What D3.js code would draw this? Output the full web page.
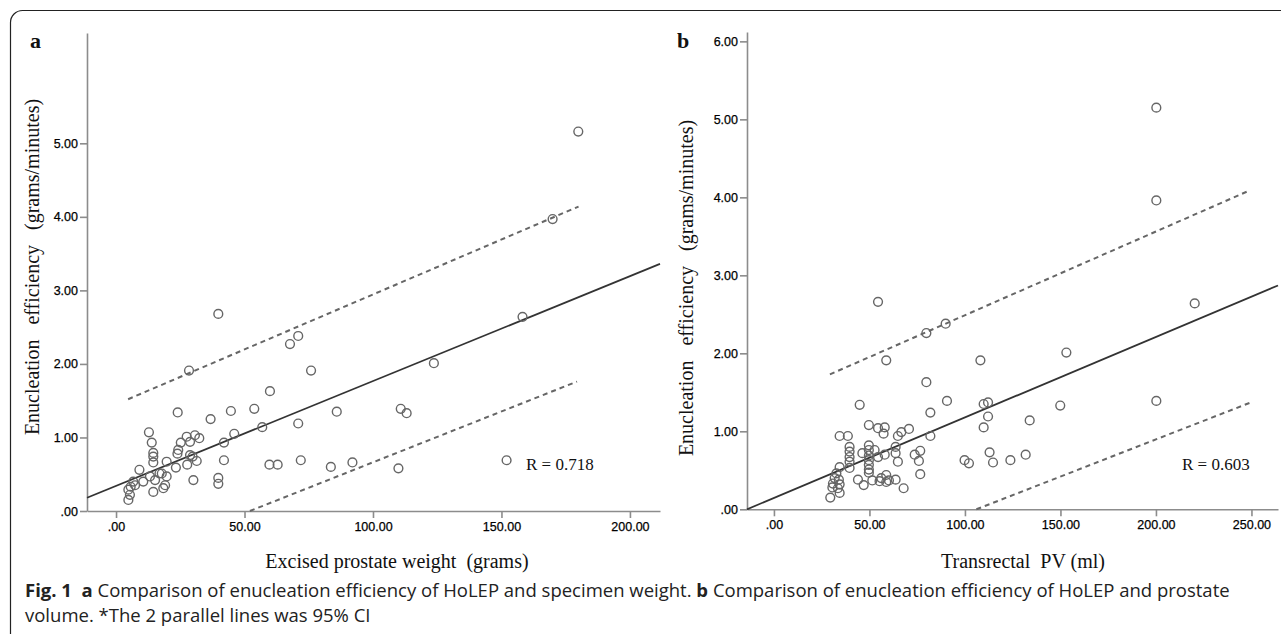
<!DOCTYPE html>
<meta charset="utf-8">
<style>
	body { margin: 0; background: #fff; }
	svg text { white-space: pre; }
	.axis path, .axis line { stroke: #8c8c8c; stroke-width: 1.6px; }
	.axis text { font-family: "Liberation Sans", Arial, sans-serif; font-size: 12.5px; fill: #000; stroke: #000; stroke-width: 0.25px; }
	.title { font-family: "Liberation Serif", "Times New Roman", serif; font-size: 20px; fill: #111; }
	.caption { font-family: "Open Sans", "Noto Sans", sans-serif; font-size: 18.5px; fill: #222; }
</style>
<svg width="1281" height="634"></svg>
<script src="https://d3js.org/d3.v7.min.js"></script>
<script>
	// panel a : excised prostate weight (g) vs enucleation efficiency (g/min)
	var weightA = [179.9, 169.9, 158.2, 152, 123.7, 110.8, 113.1, 109.9, 92, 85.9, 83.6, 75.9, 67.7, 70.9, 70.9, 71.9,
		59.9, 56.9, 53.8, 59.7, 62.9, 44.7, 46, 42, 42, 39.8, 39.8, 39.8, 36.8, 28.4, 24, 12.8, 13.9, 14.5, 14.5, 14.5,
		25.2, 27.5, 30.7, 32.4, 28.8, 24.2, 23.9, 28.8, 29.8, 30.1, 31.4, 27.7, 19.7, 23.3, 17.8, 19.7, 19.1, 18.4,
		14.5, 9.1, 10.6, 6.7, 7.4, 5.7, 4.8, 5.4, 4.8, 13.2, 15.2, 16.9]
	var effA = [5.16, 3.97, 2.64, 0.69, 2.01, 1.39, 1.33, 0.58, 0.66, 1.35, 0.60, 1.91, 2.27, 2.38, 1.19, 0.69,
		1.63, 1.14, 1.39, 0.63, 0.63, 1.36, 1.05, 0.93, 0.69, 2.68, 0.45, 0.37, 1.25, 1.91, 1.34, 1.07, 0.93, 0.79, 0.74, 0.66,
		0.93, 1.01, 1.03, 0.99, 0.94, 0.83, 0.78, 0.76, 0.74, 0.42, 0.68, 0.63, 0.67, 0.59, 0.51, 0.47, 0.35, 0.31,
		0.26, 0.56, 0.40, 0.40, 0.35, 0.33, 0.29, 0.22, 0.15, 0.47, 0.42, 0.51]
	var fitA = [[-11.3, 0.18], [211.7, 3.36]]
	var ciUpperA = [[4.7, 1.52], [180, 4.14]]
	var ciLowerA = [[52.1, 0], [179.4, 1.76]]

	// panel b : transrectal prostate volume (ml) vs enucleation efficiency
	var volB = [200.2, 200.2, 220.3, 108.1, 153.1, 109.8, 112.1, 112.1, 109.8, 133.9, 149.9, 200.2, 99.8, 102.1, 112.9,
		114.7, 123.8, 131.8, 58.8, 79.8, 89.9, 54.5, 79.8, 90.6, 81.9, 81.9, 70.7, 66.7, 64.9, 58, 57.4, 54.5, 49.7, 44.9,
		34.4, 38.7, 63.7, 63.7, 64.9, 73.7, 76.6, 75.9, 76.6, 67.9, 58.8, 58.8, 63.7, 39.6, 39.6, 39.6, 39.6, 39.6, 34.4,
		49.7, 49.7, 49.7, 49.7, 49.7, 49.7, 49.7, 46.3, 52.7, 54.5, 58, 44, 47, 51.5, 55.3, 56.2, 60.2, 31.8, 34, 30.9,
		34.4, 30.6, 33.5, 34.4, 29.5, 32.7]
	var effB = [5.15, 3.96, 2.64, 1.91, 2.01, 1.35, 1.37, 1.19, 1.05, 1.14, 1.33, 1.39, 0.63, 0.59, 0.73,
		0.60, 0.63, 0.70, 1.91, 2.26, 2.38, 2.66, 1.63, 1.39, 1.24, 0.94, 1.03, 0.99, 0.94, 1.05, 0.97, 1.04, 1.08, 1.34,
		0.94, 0.94, 0.80, 0.72, 0.61, 0.70, 0.75, 0.62, 0.45, 0.27, 0.44, 0.35, 0.38, 0.80, 0.74, 0.67, 0.61, 0.53, 0.54,
		0.82, 0.76, 0.69, 0.63, 0.57, 0.51, 0.47, 0.72, 0.76, 0.67, 0.70, 0.38, 0.31, 0.37, 0.36, 0.40, 0.37, 0.40, 0.38, 0.33,
		0.32, 0.28, 0.27, 0.21, 0.15, 0.46]
	var fitB = [[-14.1, 0], [263.9, 2.87]]
	var ciUpperB = [[29.3, 1.73], [248.3, 4.08]]
	var ciLowerB = [[106, 0], [250.7, 1.38]]

	var yTicksA = [0, 1, 2, 3, 4, 5],
		yTicksB = [0, 1, 2, 3, 4, 5, 6],
		xTicksA = [0, 50, 100, 150, 200],
		xTicksB = [0, 50, 100, 150, 200, 250]

	var svg = d3.select('svg')

	// frame round the figure
	svg.append('rect')
		.attr('x', 10.5).attr('y', 10.5)
		.attr('width', 1320).attr('height', 700)
		.attr('rx', 12)
		.attr('fill', 'none')
		.attr('stroke', '#222')
		.attr('stroke-width', 1.2)

	var fmt = function (d) {
		return d === 0 ? '.00' : d3.format('.2f')(d)
	}

	function panel(o) {
		var x = d3.scaleLinear().domain(o.xDomain).range(o.xRange),
			y = d3.scaleLinear().domain(o.yDomain).range(o.yRange)
		var g = svg.append('g')

		g.append('g')
			.attr('class', 'axis')
			.attr('transform', 'translate(0,' + o.yRange[0] + ')')
			.call(d3.axisBottom(x).tickValues(o.xTicks).tickFormat(fmt).tickSize(7).tickSizeOuter(0).tickPadding(4))

		g.append('g')
			.attr('class', 'axis')
			.attr('transform', 'translate(' + o.xRange[0] + ',0)')
			.call(d3.axisLeft(y).tickValues(o.yTicks).tickFormat(fmt).tickSize(7).tickSizeOuter(0).tickPadding(2))

		var line = d3.line()
			.x(function (d) { return x(d[0]) })
			.y(function (d) { return y(d[1]) })

		g.append('path')
			.attr('d', line(o.fit))
			.attr('fill', 'none')
			.attr('stroke', '#333')
			.attr('stroke-width', 1.8)

		;[o.ciUp, o.ciLow].forEach(function (l) {
			g.append('path')
				.attr('d', line(l))
				.attr('fill', 'none')
				.attr('stroke', '#666')
				.attr('stroke-width', 2)
				.attr('stroke-dasharray', '5,4')
		})

		g.selectAll('.dot')
			.data(o.xs.map(function (v, i) { return [v, o.ys[i]] }))
			.enter().append('circle')
			.attr('class', 'dot')
			.attr('cx', function (d) { return x(d[0]) })
			.attr('cy', function (d) { return y(d[1]) })
			.attr('r', 4.4)
			.attr('fill', 'none')
			.attr('stroke', '#666')
			.attr('stroke-width', 1.4)

		g.append('text')
			.attr('class', 'title')
			.attr('x', o.rPos[0]).attr('y', o.rPos[1])
			.style('font-size', '17px')
			.text(o.rText)

		g.append('text')
			.attr('class', 'title')
			.attr('x', o.xTitlePos[0]).attr('y', o.xTitlePos[1])
			.attr('text-anchor', 'middle')
			.text(o.xTitle)

		g.append('text')
			.attr('class', 'title')
			.attr('transform', 'translate(' + o.yTitlePos[0] + ',' + o.yTitlePos[1] + ') rotate(-90)')
			.attr('text-anchor', 'middle')
			.text('Enucleation   efficiency   (grams/minutes)')

		g.append('text')
			.attr('class', 'title')
			.attr('x', o.labelPos[0]).attr('y', o.labelPos[1])
			.style('font-size', '22px')
			.style('font-weight', 'bold')
			.text(o.label)
	}

	panel({
		xs: weightA, ys: effA, fit: fitA, ciUp: ciUpperA, ciLow: ciLowerA,
		xDomain: [-11.3, 211.7], xRange: [87, 660],
		yDomain: [0, 6.5], yRange: [511, 33],
		xTicks: xTicksA, yTicks: yTicksA,
		rText: 'R = 0.718', rPos: [526, 470],
		xTitle: 'Excised prostate weight  (grams)', xTitlePos: [397, 568],
		yTitlePos: [39, 267], label: 'a', labelPos: [30, 48]
	})

	panel({
		xs: volB, ys: effB, fit: fitB, ciUp: ciUpperB, ciLow: ciLowerB,
		xDomain: [-14.1, 263.9], xRange: [747, 1278],
		yDomain: [0, 6.12], yRange: [509.3, 32],
		xTicks: xTicksB, yTicks: yTicksB,
		rText: 'R = 0.603', rPos: [1182, 470],
		xTitle: 'Transrectal  PV (ml)', xTitlePos: [1023, 568],
		yTitlePos: [693, 288], label: 'b', labelPos: [677, 48]
	})

	// caption
	var cap = svg.append('text').attr('class', 'caption').attr('x', 25).attr('y', 597)
	cap.append('tspan').style('font-weight', 'bold').text('Fig. 1  a ')
	cap.append('tspan').text('Comparison of enucleation efficiency of HoLEP and specimen weight. ')
	cap.append('tspan').style('font-weight', 'bold').text('b ')
	cap.append('tspan').text('Comparison of enucleation efficiency of HoLEP and prostate')
	svg.append('text').attr('class', 'caption').attr('x', 25).attr('y', 622)
		.text('volume. *The 2 parallel lines was 95% CI')
</script>
